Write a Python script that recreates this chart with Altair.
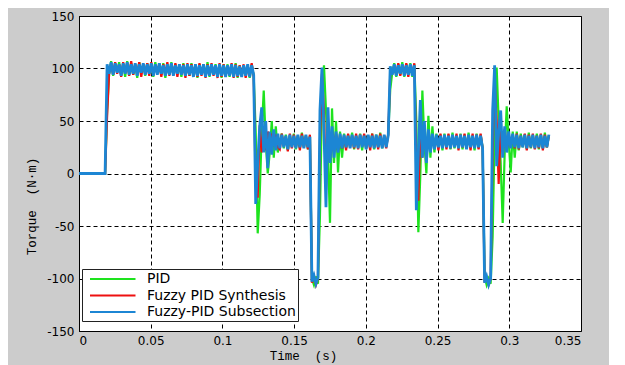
import altair as alt
import pandas as pd

# ---------------- data ----------------
SAMPLE_PERIOD = 0.0014  # seconds between plotted samples

SERIES = ["PID", "Fuzzy PID Synthesis", "Fuzzy-PID Subsection"]
COLORS = ["#1ee31e", "#ee1010", "#1c86d4"]
WIDTHS = [2.2, 2.2, 2.8]

PID_TORQUE = [
    0, 0, 0, 0, 0, 0, 0, 0, 0, 0, 0, 0, 0, 0,
    60, 95, 107, 93, 105, 97, 106, 94, 104, 92, 107, 95, 105, 94, 104, 91, 106, 96, 104, 93,
    105, 96, 104, 92, 106, 95, 104, 94, 105, 91, 103, 95, 106, 94, 104, 96, 103, 92, 105, 94,
    103, 93, 105, 94, 103, 91, 104, 95, 103, 93, 106, 92, 103, 95, 104, 93, 103, 91, 104, 94,
    104, 92, 103, 94, 105, 91, 103, 93, 102, 94, 103, 91, 104, 93,
    40, -57, -20, 40, 79, 30, 0, 20, 50, 15, 45, 20,
    30, 38, 24, 37, 22, 36, 26, 38, 23, 36, 24, 39, 25, 36, 23, 36,
    -100, -106, -98, -105,
    -40, 70, 103, 60, 20, -47, 62, 10, 50, 1, 40, 15,
    38, 24, 37, 26, 39, 23, 36, 25, 38, 22, 37, 24, 36, 26, 38, 23, 37, 25, 39, 24, 36, 26, 37,
    80, 96, 105, 92, 104, 94, 106, 92, 104, 95, 105, 92, 104,
    50, -56, 0, 79, 30, 0, 55, 15, 45, 20,
    38, 24, 37, 22, 38, 26, 37, 23, 39, 24, 36, 25, 38, 23, 37, 24, 39, 26, 36, 22, 38, 24, 37, 25,
    -98, -106, -100, -105,
    -60, 40, 101, 50, 10, -47, 20, 64, 30, 1, 40, 15,
    40, 22, 38, 25, 37, 23, 39, 24, 36, 26, 38, 23, 37, 24, 39, 25, 36,
]

SYNTH_TORQUE = [
    0, 0, 0, 0, 0, 0, 0, 0, 0, 0, 0, 0, 0, 0,
    55, 96, 105, 94, 106, 95, 104, 92, 106, 96, 105, 93, 107, 94, 104, 95, 106, 92, 104, 95,
    105, 93, 106, 94, 103, 96, 105, 92, 104, 95, 106, 93, 104, 94, 105, 92, 104, 95, 104, 91,
    105, 93, 104, 95, 103, 92, 105, 93, 104, 91, 104, 94, 105, 93, 102, 91, 105, 92, 104, 93,
    102, 94, 105, 91, 104, 92, 103, 94, 104, 91, 103, 93, 105, 92,
    -10, -23, 46, 20, 45, 22, 40, 24, 38, 26, 37, 25,
    23, 38, 26, 35, 21, 38, 24, 37, 25, 36, 22, 38, 25, 36, 23, 37,
    -104, -98, -106, -100,
    30, 95, 60, -16, 45, 15, 40, 20, 38, 22, 37, 24,
    36, 22, 38, 25, 36, 24, 38, 23, 37, 26, 38, 24, 36, 22, 38, 25, 36, 23, 38, 25, 36, 24, 38,
    95, 95, 103, 94, 105, 93, 103, 96, 105, 92, 103, 95, 105,
    10, -26, 45, 15, 42, 20, 38, 23, 37, 25,
    36, 22, 38, 25, 36, 23, 38, 24, 36, 26, 38, 22, 37, 25, 38, 24, 36, 22, 38, 25, 37, 23, 38, 24,
    -104, -99, -106, -100,
    20, 90, 50, -10, 45, 20, 42, 22, 38, 25, 37, 24,
    38, 23, 36, 26, 38, 22, 37, 25, 38, 23, 36, 24, 38, 22, 37, 25, 36,
]

SUBSEC_TORQUE = [
    0, 0, 0, 0, 0, 0, 0, 0, 0, 0, 0, 0, 0, 0,
    104, 95, 106, 94, 105, 96, 104, 93, 105, 95, 106, 94, 104, 95, 105, 93, 104, 96, 105, 94,
    104, 95, 105, 93, 104, 94, 105, 95, 103, 93, 104, 94, 105, 93, 103, 95, 104, 94, 103, 93,
    104, 94, 103, 92, 104, 93, 103, 94, 104, 92, 103, 93, 104, 94, 103, 92, 104, 93, 103, 92,
    103, 93, 104, 92, 103, 93, 102, 92, 103, 93, 104, 92, 103, 94,
    -29, 10, 45, 63, 20, 50, 5, 40, 18, 42, 22, 38,
    24, 37, 25, 36, 23, 37, 25, 36, 24, 37, 25, 36, 24, 37, 25, 35,
    -103, -97, -105, -99,
    60, 101, 40, -32, 63, 10, 45, 15, 40, 20, 38, 24,
    37, 25, 36, 24, 37, 25, 36, 24, 37, 25, 36, 23, 37, 25, 36, 24, 37, 25, 36, 24, 37, 25, 36,
    102, 94, 104, 93, 103, 95, 104, 93, 103, 94, 104, 93, 103,
    -35, 20, 70, 15, 50, 10, 42, 20, 38, 23,
    37, 25, 36, 24, 37, 25, 36, 24, 37, 25, 36, 24, 37, 25, 36, 23, 37, 25, 36, 24, 37, 25, 36, 24,
    -104, -98, -106, -100,
    60, 103, 7, 40, 60, 15, 45, 20, 40, 24, 38, 25,
    37, 24, 36, 25, 37, 24, 36, 25, 37, 24, 36, 25, 37, 24, 36, 25, 37,
]

X_TICKS = [0, 0.05, 0.1, 0.15, 0.2, 0.25, 0.3, 0.35]
Y_TICKS = [-150, -100, -50, 0, 50, 100, 150]

# ---------------- table ----------------
rows = []
for name, vals in zip(SERIES, [PID_TORQUE, SYNTH_TORQUE, SUBSEC_TORQUE]):
    for i, v in enumerate(vals):
        rows.append({"series": name, "time": round(i * SAMPLE_PERIOD, 6),
                     "torque": v, "idx": i})
df = pd.DataFrame(rows)

# ---------------- encodings ----------------
x_enc = alt.X(
    "time:Q",
    scale=alt.Scale(domain=[0, 0.35], nice=False, zero=False),
    axis=alt.Axis(
        values=X_TICKS, labelExpr="'' + datum.value",
        title="Time \u00a0(s)", titleFont="Liberation Mono", titleFontSize=12.5,
        titleFontWeight="normal", titleColor="black",
        titleX=224, titleY=28, titleBaseline="alphabetic", titleAlign="center",
        labelFont="DejaVu Sans", labelFontSize=12, labelColor="black",
        labelPadding=4, ticks=False, grid=True,
        gridColor="black", gridDash=[4, 3], gridWidth=1, gridOpacity=1,
        domainColor="black",
    ),
)
y_enc = alt.Y(
    "torque:Q",
    scale=alt.Scale(domain=[-150, 150], nice=False, zero=False),
    axis=alt.Axis(
        values=Y_TICKS, labelExpr="'' + datum.value",
        title="Torque \u00a0(N\u00b7m)", titleFont="Liberation Mono", titleFontSize=12.5,
        titleFontWeight="normal", titleColor="black",
        titleX=-44, titleY=190, titleAngle=270, titleBaseline="alphabetic",
        titleAlign="center",
        labelFont="DejaVu Sans", labelFontSize=12, labelColor="black",
        labelPadding=5, ticks=False, grid=True,
        gridColor="black", gridDash=[4, 3], gridWidth=1, gridOpacity=1,
        domainColor="black",
    ),
)
color_enc = alt.Color(
    "series:N",
    scale=alt.Scale(domain=SERIES, range=COLORS),
    legend=alt.Legend(
        title=None, orient="none", legendX=3, legendY=253,
        fillColor="white", strokeColor="#222222", padding=2,
        symbolType="M-1,0H5.5", symbolSize=196, symbolStrokeWidth=2,
        symbolOffset=5, labelOffset=42, rowPadding=1.5,
        labelFont="DejaVu Sans", labelFontSize=14, labelColor="black",
        labelLimit=400,
    ),
)

base = alt.Chart(df)
layers = []
for name, w in zip(SERIES, WIDTHS):
    layers.append(
        base.transform_filter(alt.datum.series == name)
        .mark_line(strokeWidth=w, interpolate="linear", strokeJoin="miter")
        .encode(x=x_enc, y=y_enc, color=color_enc, order="idx:Q")
    )

chart = (
    alt.layer(*layers)
    .properties(
        width=502, height=315,
        autosize=alt.AutoSizeParams(type="none"),
        padding={"left": 71, "top": 8, "right": 28, "bottom": 40},
        background="#cccccc",
    )
    .configure_view(fill="white", stroke="black", strokeWidth=1)
)

chart.save("out.html", embed_options={"renderer": "svg", "actions": False})
